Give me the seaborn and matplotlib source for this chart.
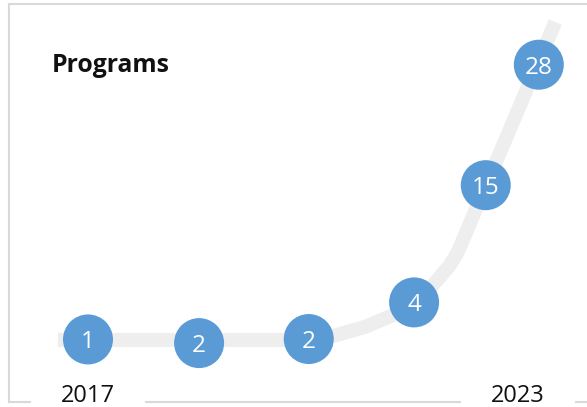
import matplotlib
matplotlib.use("Agg")
import matplotlib.pyplot as plt
import seaborn as sns
import pandas as pd

# values shown in the bubbles
values = [1, 2, 2, 4, 15, 28]
# where each bubble sits (x in years, height in % of figure)
bubble_year = [2017.0, 2018.55, 2020.08, 2021.55, 2022.55, 2023.29]
bubble_level = [16.6, 15.7, 16.7, 25.7, 54.5, 84.1]

# path of the thick grey trend line
trend_year = [2016.58, 2020.10, 2020.47, 2020.86, 2021.26, 2021.55, 2021.74, 2021.91, 2022.05, 2022.16, 2023.52]
trend_level = [16.46, 16.46, 17.69, 19.66, 22.60, 25.55, 28.50, 31.94, 34.89, 38.08, 94.59]

year_labels = [2017, 2023]
title = "Programs"

blue = "#5B9BD5"
grey = "#EEEEEE"
border = "#D9D9D9"

sns.set_style("white")
plt.rcParams["font.family"] = ["Open Sans", "DejaVu Sans"]

W, H = 587, 407
fig = plt.figure(figsize=(W / 100, H / 100), dpi=100)
# axes box = the light grey frame
left, top, bottom = 8.5, 4, 402
ax = fig.add_axes([left / W, (H - bottom) / H, (W - left) / W, (bottom - top) / H])

px_per_year = 71.67
ax.set_xlim(2017 - (88 - left) / px_per_year, 2017 + (W - 88) / px_per_year)
ax.set_ylim((H - bottom) / H * 100, (H - top) / H * 100)

trend = pd.DataFrame({"year": trend_year, "level": trend_level})
bubbles = pd.DataFrame({"year": bubble_year, "level": bubble_level, "value": values})

sns.lineplot(data=trend, x="year", y="level", sort=False, color=grey,
             linewidth=10.1, solid_capstyle="butt", solid_joinstyle="round",
             ax=ax, zorder=2.7)
sns.scatterplot(data=bubbles, x="year", y="level", s=1296, color=blue,
                edgecolor="none", linewidth=0, ax=ax, zorder=2.8)

for _, r in bubbles.iterrows():
    ax.text(r["year"], r["level"], str(int(r["value"])), color="white",
            fontsize=17.5, ha="center", va="center_baseline", zorder=4)

for y in year_labels:
    ax.text(y, 0, str(y), transform=ax.get_xaxis_transform(), fontsize=17,
            ha="center", va="baseline", color="#111111", zorder=2.6,
            bbox=dict(boxstyle="square,pad=1.27", fc="white", ec="none"))

for s in ["left", "top", "bottom"]:
    ax.spines[s].set_color(border)
    ax.spines[s].set_linewidth(1.5)
ax.spines["right"].set_visible(False)
ax.set_xticks([])
ax.set_yticks([])
ax.set_xlabel("")
ax.set_ylabel("")

fig.text(52 / W, (H - 71.7) / H, title, fontsize=17.8, fontweight="bold",
         ha="left", va="baseline", color="#111111")

fig.savefig("out.png", dpi=100)
